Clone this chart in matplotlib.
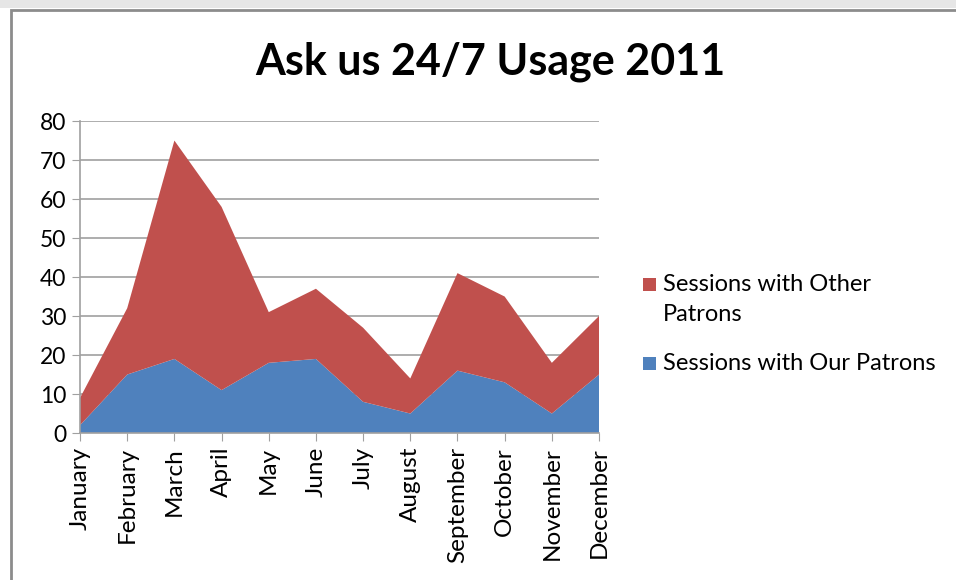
import numpy as np
import matplotlib.pyplot as plt
from matplotlib.patches import Rectangle

# Monthly data
months = ['January', 'February', 'March', 'April', 'May', 'June',
          'July', 'August', 'September', 'October', 'November', 'December']
our_patrons = [2, 15, 19, 11, 18, 19, 8, 5, 16, 13, 5, 15]
other_patrons = [7, 17, 56, 47, 13, 18, 19, 9, 25, 22, 13, 15]
legend_labels = ['Sessions with Other\nPatrons', 'Sessions with Our Patrons']

blue = '#4f81bd'
red = '#c0504d'
grid_col = '#a0a0a0'

plt.rcParams['font.family'] = ['Lato', 'DejaVu Sans']

fig = plt.figure(figsize=(9.56, 5.8), dpi=100)
W, H = 956, 580

# outer chart frame
fig.patches.append(Rectangle((0, 1 - 8 / H), 1, 8 / H, transform=fig.transFigure,
                             facecolor='#e6e6e6', edgecolor='none', zorder=-2))
fig.patches.append(Rectangle((11 / W, -0.02), 1.1, 1 - 10 / H + 0.02,
                             transform=fig.transFigure, facecolor='white',
                             edgecolor='#8c8c8c', linewidth=2, zorder=-1))

ax = fig.add_axes([0.0837, 0.2534, 0.5429, 0.5379])
ax.set_zorder(2)
x = np.arange(len(months))
ax.stackplot(x, our_patrons, other_patrons, colors=[blue, red], zorder=2)

ax.set_xlim(0, len(months) - 1)
ax.set_ylim(0, 80)
ax.set_yticks(range(0, 81, 10))
ax.set_xticks(x)
ax.set_xticklabels(months, rotation=90, fontsize=17.5)
ax.tick_params(axis='y', labelsize=16.5, length=6, color=grid_col, pad=4)
ax.tick_params(axis='x', length=6, color=grid_col, pad=4)

ax.yaxis.grid(True, color=grid_col, linewidth=1.2, zorder=1)
ax.set_axisbelow(True)
for s in ['top', 'right']:
    ax.spines[s].set_visible(False)
ax.spines['left'].set_color(grid_col)
ax.spines['bottom'].set_color(grid_col)
ax.spines['left'].set_linewidth(1.2)
ax.spines['bottom'].set_linewidth(1.2)

fig.text(0.513, 0.893, 'Ask us 24/7 Usage 2011', ha='center', va='center',
         fontsize=31, fontweight='bold')

# legend, marker lined up with the first text line like Excel does
for label, col, ytop in zip(legend_labels, [red, blue], [274, 353]):
    fig.patches.append(Rectangle((643 / W, 1 - (ytop + 17) / H), 13 / W, 13 / H,
                                 transform=fig.transFigure, facecolor=col,
                                 edgecolor='none'))
    fig.text(663 / W, 1 - ytop / H, label, ha='left', va='top',
             fontsize=17, linespacing=1.55)

plt.savefig('out.png', dpi=100)
